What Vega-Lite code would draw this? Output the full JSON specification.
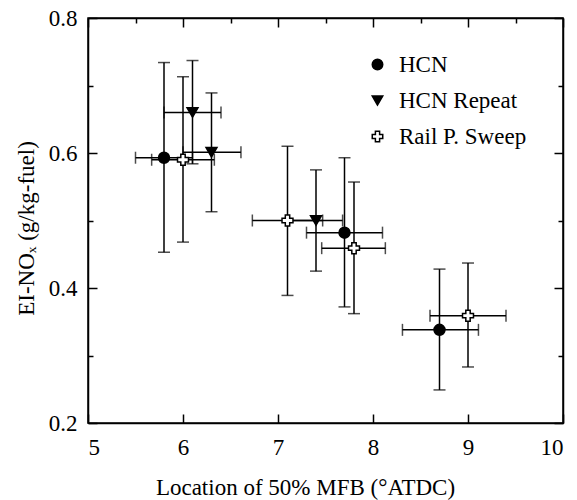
{
  "$schema": "https://vega.github.io/schema/vega-lite/v6.json",
  "autosize": "none",
  "width": 475,
  "height": 405,
  "padding": {"left": 88, "top": 18, "right": 14, "bottom": 77},
  "background": "white",
  "config": {
    "font": "Liberation Serif",
    "view": {"stroke": "black", "strokeWidth": 1.5},
    "axis": {
      "domainColor": "black", "domainWidth": 1.5,
      "tickColor": "black", "tickWidth": 1.5,
      "labelColor": "black", "labelFont": "Liberation Serif", "labelFontSize": 23,
      "titleColor": "black", "titleFont": "Liberation Serif", "titleFontSize": 23, "titleFontWeight": "normal",
      "grid": false
    },
    "legend": {"labelFont": "Liberation Serif", "labelFontSize": 23, "labelColor": "black"}
  },
  "data": {"values": [
    {"series": "HCN", "x": 5.8, "y": 0.593, "xlo": 5.5, "xhi": 6.1, "ylo": 0.453, "yhi": 0.734},
    {"series": "HCN", "x": 7.7, "y": 0.482, "xlo": 7.3, "xhi": 8.1, "ylo": 0.372, "yhi": 0.593},
    {"series": "HCN", "x": 8.7, "y": 0.338, "xlo": 8.31, "xhi": 9.11, "ylo": 0.249, "yhi": 0.428},
    {"series": "HCN Repeat", "x": 6.1, "y": 0.66, "xlo": 5.8, "xhi": 6.4, "ylo": 0.584, "yhi": 0.737},
    {"series": "HCN Repeat", "x": 6.3, "y": 0.601, "xlo": 6.0, "xhi": 6.61, "ylo": 0.513, "yhi": 0.689},
    {"series": "HCN Repeat", "x": 7.4, "y": 0.5, "xlo": 7.1, "xhi": 7.68, "ylo": 0.425, "yhi": 0.575},
    {"series": "Rail P. Sweep", "x": 6.0, "y": 0.59, "xlo": 5.67, "xhi": 6.33, "ylo": 0.468, "yhi": 0.713},
    {"series": "Rail P. Sweep", "x": 7.1, "y": 0.5, "xlo": 6.73, "xhi": 7.47, "ylo": 0.389, "yhi": 0.61},
    {"series": "Rail P. Sweep", "x": 7.8, "y": 0.459, "xlo": 7.46, "xhi": 8.13, "ylo": 0.362, "yhi": 0.557},
    {"series": "Rail P. Sweep", "x": 9.0, "y": 0.359, "xlo": 8.6, "xhi": 9.4, "ylo": 0.283, "yhi": 0.437}
  ]},
  "resolve": {"axis": {"x": "independent", "y": "independent"}},
  "layer": [
    {
      "mark": {"type": "rule", "color": "black", "strokeWidth": 1.5},
      "encoding": {
        "x": {"field": "x", "type": "quantitative", "scale": {"domain": [5, 10], "nice": false},
          "axis": {"orient": "top", "values": [5,5.5,6,6.5,7,7.5,8,8.5,9,9.5,10], "labels": false, "title": null, "domain": true,
            "tickSize": {"condition": {"test": "datum.value % 1 === 0", "value": -9}, "value": -5}}},
        "y": {"field": "ylo", "type": "quantitative", "scale": {"domain": [0.2, 0.8], "nice": false, "zero": false},
          "axis": {"orient": "right", "values": [0.2,0.3,0.4,0.5,0.6,0.7,0.8], "labels": false, "title": null, "domain": true,
            "tickSize": {"condition": {"test": "round(datum.value*10) % 2 === 0", "value": -9}, "value": -5}}},
        "y2": {"field": "yhi"}
      }
    },
    {
      "mark": {"type": "rule", "color": "black", "strokeWidth": 1.5},
      "encoding": {
        "x": {"field": "xlo", "type": "quantitative", "axis": null},
        "x2": {"field": "xhi"},
        "y": {"field": "y", "type": "quantitative", "axis": null}
      }
    },
    {
      "mark": {"type": "tick", "orient": "horizontal", "color": "black", "size": 12, "thickness": 1.5},
      "encoding": {
        "x": {"field": "x", "type": "quantitative", "axis": null},
        "y": {"field": "ylo", "type": "quantitative", "axis": null}
      }
    },
    {
      "mark": {"type": "tick", "orient": "horizontal", "color": "black", "size": 12, "thickness": 1.5},
      "encoding": {
        "x": {"field": "x", "type": "quantitative", "axis": null},
        "y": {"field": "yhi", "type": "quantitative", "axis": null}
      }
    },
    {
      "mark": {"type": "tick", "orient": "vertical", "color": "black", "size": 12, "thickness": 1.5},
      "encoding": {
        "x": {"field": "xlo", "type": "quantitative", "axis": null},
        "y": {"field": "y", "type": "quantitative", "axis": null}
      }
    },
    {
      "mark": {"type": "tick", "orient": "vertical", "color": "black", "size": 12, "thickness": 1.5},
      "encoding": {
        "x": {"field": "xhi", "type": "quantitative", "axis": null},
        "y": {"field": "y", "type": "quantitative", "axis": null}
      }
    },
    {
      "mark": {"type": "point", "filled": false, "stroke": "black", "strokeWidth": 1.5, "opacity": 1},
      "encoding": {
        "x": {"field": "x", "type": "quantitative",
          "axis": {"orient": "bottom", "values": [5,5.5,6,6.5,7,7.5,8,8.5,9,9.5,10], "title": "Location of 50% MFB (°ATDC)", "format": "d",
            "labelFont": "Liberation Serif", "titleFont": "Liberation Serif",
            "labelExpr": "datum.value % 1 === 0 ? format(datum.value, 'd') : ''", "labelPadding": 22, "titleX": 217, "titleY": 53, "titleBaseline": "top",
            "tickSize": {"condition": {"test": "datum.value % 1 === 0", "value": -9}, "value": -5}}},
        "y": {"field": "y", "type": "quantitative",
          "axis": {"orient": "left", "values": [0.2,0.3,0.4,0.5,0.6,0.7,0.8], "title": "EI-NOₓ (g/kg-fuel)", "format": ".1f",
            "labelFont": "Liberation Serif", "titleFont": "Liberation Serif",
            "labelExpr": "round(datum.value*10) % 2 === 0 ? datum.label : ''", "labelPadding": 20, "titlePadding": 10, "titleY": 210,
            "tickSize": {"condition": {"test": "round(datum.value*10) % 2 === 0", "value": -9}, "value": -5}}},
        "shape": {"field": "series", "type": "nominal",
          "scale": {"domain": ["HCN", "HCN Repeat", "Rail P. Sweep"], "range": ["circle", "triangle-down", "cross"]},
          "legend": {"title": null, "orient": "none", "legendX": 278, "legendY": 35, "symbolSize": 110, "rowPadding": 12, "labelOffset": 10, "symbolStrokeWidth": 1.5, "labelFont": "Liberation Serif", "labelFontSize": 23}},
        "fill": {"field": "series", "type": "nominal",
          "scale": {"domain": ["HCN", "HCN Repeat", "Rail P. Sweep"], "range": ["black", "black", "white"]},
          "legend": {"title": null, "orient": "none", "legendX": 278, "legendY": 35, "symbolSize": 110, "rowPadding": 12, "labelOffset": 10, "symbolStrokeWidth": 1.5, "labelFont": "Liberation Serif", "labelFontSize": 23}},
        "size": {"value": 120}
      }
    }
  ]
}
